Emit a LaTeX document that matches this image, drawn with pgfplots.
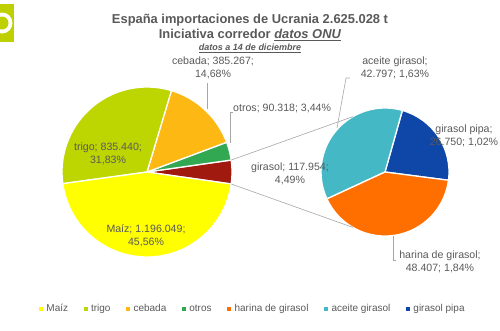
\documentclass[border=0pt]{standalone}
\usepackage{pgfplots}
\pgfplotsset{compat=1.18}
\usepackage{pgfplotstable}
\usepackage{fontspec}
\setmainfont{Liberation Sans}

\definecolor{txt}{HTML}{595959}
\definecolor{lead}{HTML}{A6A6A6}
\definecolor{cMaiz}{HTML}{FFFF00}
\definecolor{cTrigo}{HTML}{BDD500}
\definecolor{cCebada}{HTML}{FDB813}
\definecolor{cOtros}{HTML}{33A852}
\definecolor{cGirasol}{HTML}{A01A10}
\definecolor{cHarina}{HTML}{FF6F00}
\definecolor{cAceite}{HTML}{45B8C5}
\definecolor{cPipa}{HTML}{0E47A8}
\definecolor{logo}{HTML}{BFD000}

\pgfplotstableread[col sep=comma]{
label,value
Maiz,1196049
trigo,835440
cebada,385267
otros,90318
girasol,117954
}\maindata

\pgfplotstableread[col sep=comma]{
label,value
harina de girasol,48407
aceite girasol,42797
girasol pipa,26750
}\subdata

% values
\pgfplotstablegetelem{0}{value}\of\maindata\edef\vA{\pgfplotsretval}
\pgfplotstablegetelem{1}{value}\of\maindata\edef\vB{\pgfplotsretval}
\pgfplotstablegetelem{2}{value}\of\maindata\edef\vC{\pgfplotsretval}
\pgfplotstablegetelem{3}{value}\of\maindata\edef\vD{\pgfplotsretval}
\pgfplotstablegetelem{4}{value}\of\maindata\edef\vE{\pgfplotsretval}
\pgfplotstablegetelem{0}{value}\of\subdata\edef\wA{\pgfplotsretval}
\pgfplotstablegetelem{1}{value}\of\subdata\edef\wB{\pgfplotsretval}
\pgfplotstablegetelem{2}{value}\of\subdata\edef\wC{\pgfplotsretval}

% main pie angles (girasol centred on 0 deg, counter-clockwise)
\edef\T{\fpeval{\vA+\vB+\vC+\vD+\vE}}
\edef\sE{\fpeval{-\vE/\T*180}}
\edef\eE{\fpeval{\sE+\vE/\T*360}}
\edef\eD{\fpeval{\eE+\vD/\T*360}}
\edef\eC{\fpeval{\eD+\vC/\T*360}}
\edef\eB{\fpeval{\eC+\vB/\T*360}}
\edef\eA{\fpeval{\sE+360}}
% secondary pie angles
\edef\U{\fpeval{\wA+\wB+\wC}}
\edef\sC{-7.4}
\edef\fC{\fpeval{\sC+\wC/\U*360}}
\edef\fB{\fpeval{\fC+\wB/\U*360}}
\edef\fA{\fpeval{\sC+360}}

\newcommand\pieslice[5]{%
  \fill[#1, draw=white, line width=1.3pt, line join=round]
    (axis cs:#2) -- ++(#4:#3) arc[start angle=#4, end angle=#5, radius=#3] -- cycle;}

\begin{document}
\begin{tikzpicture}
\begin{axis}[
  scale only axis, width=500pt, height=330pt,
  xmin=0, xmax=500, ymin=0, ymax=330, y dir=reverse,
  hide axis, clip=false,
  legend style={at={(axis cs:253,309)}, anchor=center, draw=none, fill=none,
    legend columns=-1, font=\fontsize{10}{12}\selectfont\color{txt},
    /tikz/every even column/.append style={column sep=14pt},
    /tikz/every odd column/.append style={column sep=2pt},
    inner sep=0pt, outer sep=0pt},
  legend cell align=left,
]
% logo
\fill[logo] (axis cs:0,4) rectangle (axis cs:14,42);
\fill[white] (axis cs:2,23) circle[radius=10.5pt];
\fill[logo] (axis cs:2,23) circle[radius=6.5pt];

% main pie
\pieslice{cGirasol}{147,172}{85pt}{\sE}{\eE}
\pieslice{cOtros}{147,172}{85pt}{\eE}{\eD}
\pieslice{cCebada}{147,172}{85pt}{\eD}{\eC}
\pieslice{cTrigo}{147,172}{85pt}{\eC}{\eB}
\pieslice{cMaiz}{147,172}{85pt}{\eB}{\eA}
% secondary pie
\pieslice{cPipa}{385,172}{64pt}{\sC}{\fC}
\pieslice{cAceite}{385,172}{64pt}{\fC}{\fB}
\pieslice{cHarina}{385,172}{64pt}{\fB}{\fA}

% connectors
\draw[lead, line width=0.6pt] ([shift={(\eE:85pt)}]axis cs:147,172) -- ([shift={(120:64pt)}]axis cs:385,172);
\draw[lead, line width=0.6pt] ([shift={(\sE:85pt)}]axis cs:147,172) -- ([shift={(240:64pt)}]axis cs:385,172);

% leader lines
\draw[lead, line width=0.6pt] (axis cs:207,83) -- (axis cs:207,109);
\draw[lead, line width=0.6pt] (axis cs:233,112) -- (axis cs:230,112) -- (axis cs:230,143);
\draw[lead, line width=0.6pt] (axis cs:350,78) -- (axis cs:346,78) -- (axis cs:337,128);
\draw[lead, line width=0.6pt] (axis cs:393,236) -- (axis cs:393,260) -- (axis cs:396,260);

% titles
\node[txt, font=\fontsize{12.9}{15}\selectfont\bfseries] at (axis cs:250,20) {España importaciones de Ucrania 2.625.028 t};
\node[txt, font=\fontsize{12.9}{15}\selectfont\bfseries] at (axis cs:250,35) {Iniciativa corredor \underline{\textit{datos ONU}}};
\node[txt, font=\fontsize{9}{10}\selectfont\bfseries\itshape] at (axis cs:250,48) {\underline{datos a 14 de diciembre}};

% data labels
\tikzset{lab/.style={txt, font=\fontsize{10.6}{13}\selectfont, align=center, inner sep=0pt}}
\node[lab] at (axis cs:213,68) {cebada; 385.267;\\14,68\%};
\node[lab, anchor=west] at (axis cs:233,108) {otros; 90.318; 3,44\%};
\node[lab] at (axis cs:395,68) {aceite girasol;\\42.797; 1,63\%};
\node[lab] at (axis cs:464,136) {girasol pipa;\\26.750; 1,02\%};
\node[lab] at (axis cs:290,174) {girasol; 117.954;\\4,49\%};
\node[lab] at (axis cs:440,262) {harina de girasol;\\48.407; 1,84\%};
\node[lab] at (axis cs:108,154) {trigo; 835.440;\\31,83\%};
\node[lab] at (axis cs:146,236) {Maíz; 1.196.049;\\45,56\%};

% legend
\addlegendimage{only marks, mark=square*, mark size=1.5pt, color=cMaiz}
\addlegendentry{Maíz}
\addlegendimage{only marks, mark=square*, mark size=1.5pt, color=cTrigo}
\addlegendentry{trigo}
\addlegendimage{only marks, mark=square*, mark size=1.5pt, color=cCebada}
\addlegendentry{cebada}
\addlegendimage{only marks, mark=square*, mark size=1.5pt, color=cOtros}
\addlegendentry{otros}
\addlegendimage{only marks, mark=square*, mark size=1.5pt, color=cHarina}
\addlegendentry{harina de girasol}
\addlegendimage{only marks, mark=square*, mark size=1.5pt, color=cAceite}
\addlegendentry{aceite girasol}
\addlegendimage{only marks, mark=square*, mark size=1.5pt, color=cPipa}
\addlegendentry{girasol pipa}
\end{axis}
\pgfresetboundingbox
\path (0,0) rectangle (500pt,330pt);
\end{tikzpicture}
\end{document}
